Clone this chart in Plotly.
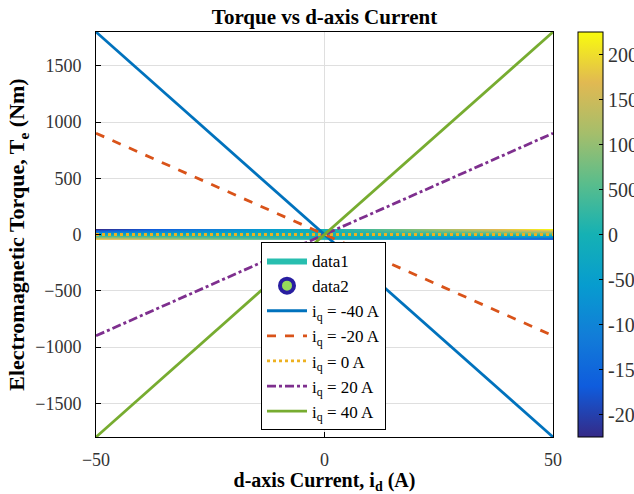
import plotly.graph_objects as go

# ---- data ----
id_vals = [-50, 0, 50]                      # d-axis current (A)
iq_labels = ["-40", "-20", "0", "20", "40"]  # q-axis current levels (A)
te_iq_m40 = [1800, 0, -1800]
te_iq_m20 = [900, 0, -900]
te_iq_0 = [0, 0, 0]
te_iq_p20 = [-900, 0, 900]
te_iq_p40 = [-1800, 0, 1800]

# contour surface (id on x, iq on y, torque as z)
grid_id = [-50, 0, 50]
grid_iq = [-50, 0, 50]
grid_te = [[2250, 0, -2250],
           [0, 0, 0],
           [-2250, 0, 2250]]

x_ticks = [-50, 0, 50]
y_ticks = [-1500, -1000, -500, 0, 500, 1000, 1500]
cb_ticks = [-2000, -1500, -1000, -500, 0, 500, 1000, 1500, 2000]

# ---- styling ----
parula = [
    [0.0, "rgb(53,42,135)"],
    [0.125, "rgb(15,92,221)"],
    [0.25, "rgb(18,125,216)"],
    [0.375, "rgb(7,156,207)"],
    [0.5, "rgb(21,177,180)"],
    [0.625, "rgb(89,189,140)"],
    [0.75, "rgb(165,190,107)"],
    [0.875, "rgb(225,185,82)"],
    [1.0, "rgb(249,251,14)"],
]
FONT = "Liberation Serif"
L, R, T, B = 96, 81, 32, 57
W, H = 634, 494
pw = W - L - R
ph = H - T - B

fig = go.Figure()

fig.add_trace(go.Contour(
    x=grid_id, y=grid_iq, z=grid_te,
    colorscale=parula, zmin=-2250, zmax=2250,
    contours=dict(start=-2250, end=2250, size=450, coloring="heatmap", showlines=False),
    line=dict(width=0),
    showlegend=False, hoverinfo="skip",
    colorbar=dict(
        x=(578 - L) / pw, xanchor="left", xref="paper",
        y=0.5, yanchor="middle", len=ph, lenmode="pixels",
        thickness=25, thicknessmode="pixels",
        outlinecolor="black", outlinewidth=1,
        tickvals=cb_ticks, ticktext=[str(v) for v in cb_ticks],
        ticks="inside", ticklen=4, tickcolor="black",
        ticklabeloverflow="allow",
        tickfont=dict(family=FONT, size=20, color="#333"),
        xpad=0, ypad=0,
    ),
))

# legend-only entries for the contour objects
fig.add_trace(go.Scatter(
    x=[None], y=[None], mode="lines", name="data1",
    fill="toself", fillcolor="rgb(40,190,175)", line=dict(width=0, color="rgb(40,190,175)"),
))
fig.add_trace(go.Scatter(
    x=[None], y=[None], mode="markers", name="data2",
    marker=dict(symbol="circle", size=14, color="rgb(150,220,90)",
                line=dict(color="rgb(40,30,160)", width=4)),
))

line_sets = [
    (te_iq_m40, "rgb(0,114,189)", "solid"),
    (te_iq_m20, "rgb(217,83,25)", "dash"),
    (te_iq_0, "rgb(237,177,32)", "dot"),
    (te_iq_p20, "rgb(126,47,142)", "dashdot"),
    (te_iq_p40, "rgb(119,172,48)", "solid"),
]
for (vals, col, dash), lab in zip(line_sets, iq_labels):
    fig.add_trace(go.Scatter(
        x=id_vals, y=vals, mode="lines",
        name=f"i<sub>q</sub> = {lab} A",
        line=dict(color=col, width=2.8, dash=dash),
    ))

axis_common = dict(
    showline=True, linecolor="black", linewidth=1, mirror=True,
    ticks="inside", ticklen=5, tickcolor="black",
    showgrid=True, gridcolor="rgb(223,223,223)", gridwidth=1,
    zeroline=False,
    tickfont=dict(family=FONT, size=18, color="#333"),
)

fig.update_layout(
    width=W, height=H,
    margin=dict(l=L, r=R, t=T, b=B, autoexpand=False),
    paper_bgcolor="white", plot_bgcolor="white",
    title=dict(text="<b>Torque vs d-axis Current</b>", x=(L + pw / 2) / W, xanchor="center",
               y=1 - 17 / H, yanchor="middle",
               font=dict(family=FONT, size=21, color="black")),
    xaxis=dict(range=[-50, 50], tickvals=x_ticks, ticklabelstandoff=6, **axis_common,
               title=dict(text="<b>d-axis Current, i<sub>d</sub> (A)</b>",
                          font=dict(family=FONT, size=20, color="black"), standoff=4)),
    yaxis=dict(range=[-1800, 1800], tickvals=y_ticks, ticklabelstandoff=10, **axis_common,
               title=dict(text="<b>Electromagnetic Torque, T<sub>e</sub> (Nm)</b>",
                          font=dict(family=FONT, size=22, color="black"), standoff=4)),
    legend=dict(
        x=(261 - L) / pw, y=(H - B - 242) / ph, xanchor="left", yanchor="top",
        bgcolor="white", bordercolor="black", borderwidth=1,
        font=dict(family=FONT, size=17, color="black"),
        itemwidth=40, tracegroupgap=0, itemsizing="trace",
    ),
    showlegend=True,
)

fig.write_html("out.html", config={"displayModeBar": False},
               post_script="document.body.style.margin='0';document.body.style.padding='0';")
